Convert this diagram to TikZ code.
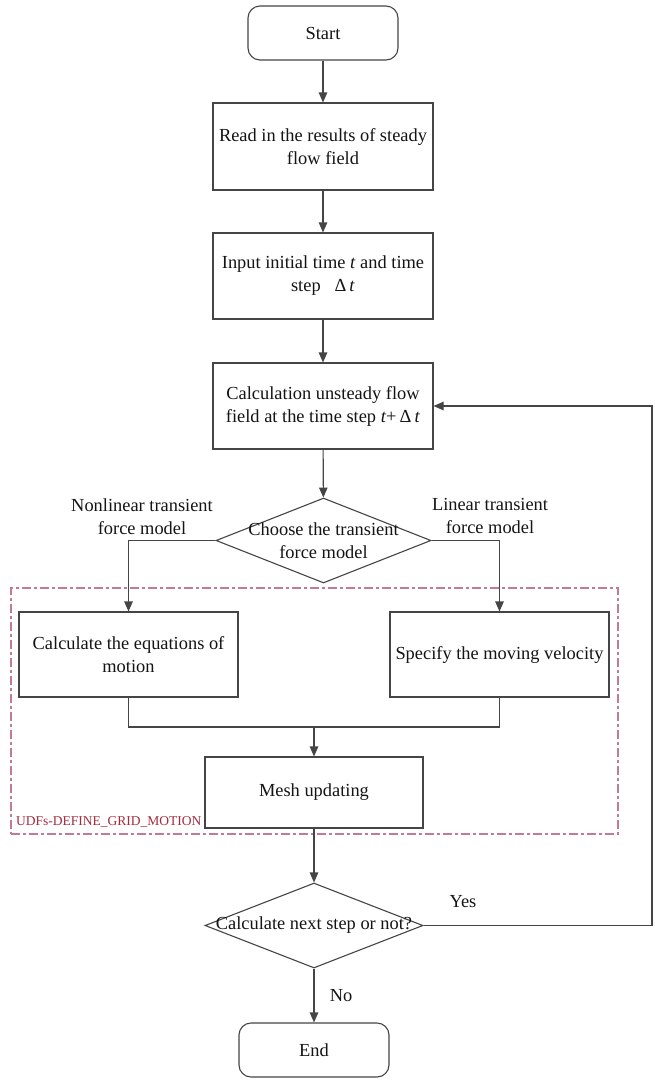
\documentclass[tikz,border=0pt]{standalone}
\usepackage{fontspec}
\setmainfont{Liberation Serif}
\usetikzlibrary{arrows.meta,shapes.geometric}
\definecolor{lnc}{HTML}{454545}
\definecolor{udfline}{HTML}{C47A90}
\definecolor{udftxt}{HTML}{A52A3C}
\tikzset{
  txt/.style={font=\fontsize{18.4}{23}\selectfont, text=black!92, align=center},
  stepbox/.style={txt, draw=lnc, line width=1.1pt, inner sep=0pt, fill=white},
  termbox/.style={stepbox, rounded corners=12pt},
  decbox/.style={draw=lnc, line width=1.1pt, diamond, inner sep=0pt, fill=white},
  arr/.style={draw=lnc, line width=1.1pt, -{Triangle[length=10pt,width=8.5pt]}},
  ln/.style={draw=lnc, line width=1.1pt},
  grpbox/.style={draw=udfline, line width=1.1pt, dash pattern=on 9pt off 3pt on 3pt off 3pt, inner sep=0pt},
  udflabel/.style={font=\fontsize{13.5}{15}\selectfont, text=udftxt, inner sep=0pt}
}
\begin{document}
\begin{tikzpicture}[x=1pt,y=-1pt]
\useasboundingbox (0,0) rectangle (654,1080);
% group (dashed) box
\node[grpbox, minimum width=607pt, minimum height=246pt] (grp) at (314.5,711) {};
\node[udflabel, anchor=west] (udf) at (16,822) {UDFs-DEFINE\_GRID\_MOTION};
% nodes
\node[termbox, minimum width=150pt, minimum height=54pt] (start) at (323,33) {Start};
\node[stepbox, minimum width=220pt, minimum height=87pt] (b1) at (323,146.5) {Read in the results of steady\\flow field};
\node[stepbox, minimum width=220pt, minimum height=86pt] (b2) at (323,276) {Input initial time \textit{t} and time\\step \ \ Δ\,\textit{t}};
\node[stepbox, minimum width=220pt, minimum height=86pt] (b3) at (323,406) {Calculation unsteady flow\\field at the time step \textit{t}+\,Δ\,\textit{t}};
\node[decbox, minimum width=215pt, minimum height=85pt] (d1) at (323.5,540.5) {};
\node[txt, inner sep=0pt] (d1t) at (323.5,541) {Choose the transient\\force model};
\node[txt, inner sep=0pt] (lnl) at (142,517) {Nonlinear transient\\force model};
\node[txt, inner sep=0pt] (lin) at (490,516) {Linear transient\\force model};
\node[stepbox, minimum width=219pt, minimum height=85pt] (b4) at (128.5,654.5) {Calculate the equations of\\motion};
\node[stepbox, minimum width=219pt, minimum height=85pt] (b5) at (499.5,654.5) {Specify the moving velocity};
\node[stepbox, minimum width=218pt, minimum height=71pt] (mesh) at (314,792.5) {Mesh updating};
\node[decbox, minimum width=218pt, minimum height=85pt] (d2) at (314,925.5) {};
\node[txt, inner sep=0pt] (d2t) at (314,925.5) {Calculate next step or not?};
\node[termbox, minimum width=150pt, minimum height=54pt] (end) at (314,1050) {End};
\coordinate (m) at (314,727);
\coordinate (r) at (652,925.5);
% connectors
\draw[arr] (start) -- (b1);
\draw[arr] (b1) -- (b2);
\draw[arr] (b2) -- (b3);
\draw[arr] (b3) -- (d1);
\draw[arr] (d1.west) -| (b4.north);
\draw[arr] (d1.east) -| (b5.north);
\draw[ln] (b4.south) |- (m);
\draw[ln] (b5.south) |- (m);
\draw[arr] (m) -- (mesh.north);
\draw[arr] (mesh) -- (d2);
\draw[arr] (d2) -- node[txt, right, pos=0.5, xshift=12pt] (no) {No} (end);
\draw[arr] (d2.east) -- (r) |- (b3.east);
\node[txt, inner sep=0pt] (yes) at (463,902) {Yes};
\end{tikzpicture}
\end{document}
